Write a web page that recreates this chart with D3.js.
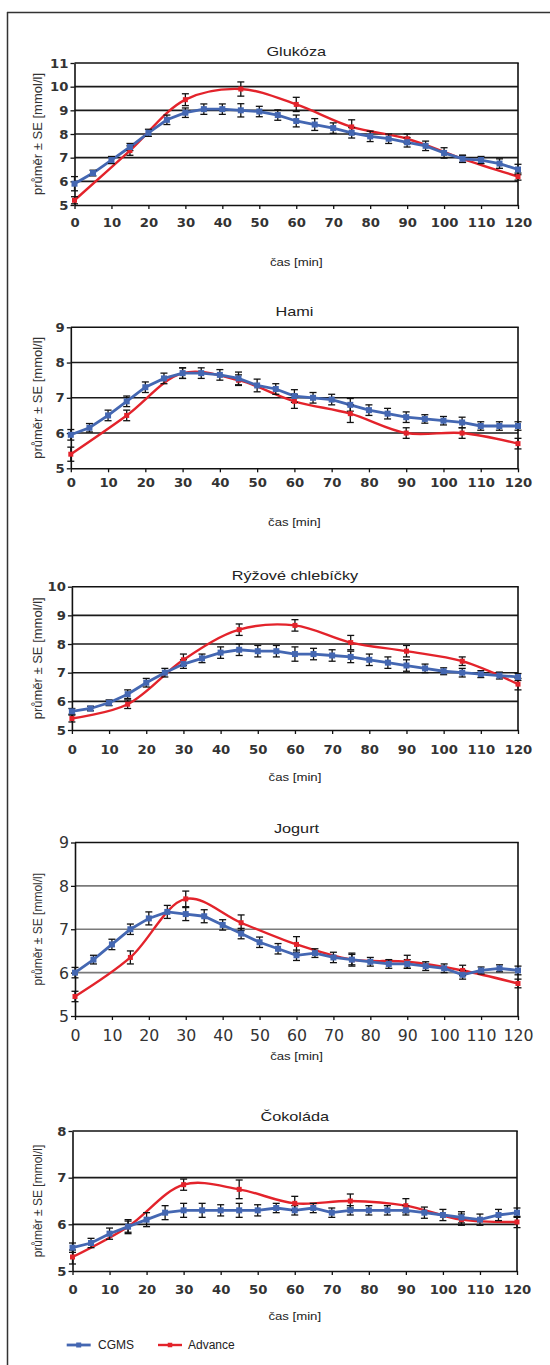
<!DOCTYPE html>
<html>
<head>
<meta charset="utf-8">
<script src="https://cdn.jsdelivr.net/npm/d3@7"></script>
<style>
  html, body { margin: 0; padding: 0; background: #fff; }
  svg { display: block; }
</style>
</head>
<body>
<svg id="chart" width="550" height="1365"></svg>
<script>
// ---------------- DATA ----------------
const minutesCGMS = [0,5,10,15,20,25,30,35,40,45,50,55,60,65,70,75,80,85,90,95,100,105,110,115,120];
const minutesAdvance = [0,15,30,45,60,75,90,105,120];
const xTicks = [0,10,20,30,40,50,60,70,80,90,100,110,120];
const seriesNames = ["CGMS", "Advance"];
const panelTitles = ["Glukóza", "Hami", "Rýžové chlebíčky", "Jogurt", "Čokoláda"];
const xLabel = "čas [min]";
const yLabel = "průměr ± SE [mmol/l]";

const glukozaTicks = [5,6,7,8,9,10,11];
const glukozaCGMS   = [5.9,6.35,6.9,7.45,8.05,8.6,8.9,9.05,9.05,9.0,8.95,8.8,8.55,8.4,8.25,8.05,7.9,7.8,7.65,7.5,7.2,6.95,6.9,6.75,6.5];
const glukozaCGMSse = [0.3,0.12,0.15,0.15,0.15,0.2,0.2,0.22,0.22,0.28,0.22,0.22,0.25,0.25,0.22,0.22,0.22,0.2,0.2,0.2,0.22,0.15,0.15,0.2,0.22];
const glukozaAdv    = [5.2,7.3,9.45,9.9,9.25,8.3,7.8,6.95,6.2];
const glukozaAdvSe  = [0.15,0.2,0.25,0.3,0.3,0.3,0.2,0.15,0.15];

const hamiTicks = [5,6,7,8,9];
const hamiCGMS   = [5.95,6.15,6.5,6.9,7.3,7.55,7.7,7.7,7.65,7.55,7.35,7.25,7.05,7.0,6.95,6.8,6.65,6.55,6.45,6.4,6.35,6.3,6.2,6.2,6.2];
const hamiCGMSse = [0.15,0.12,0.15,0.15,0.15,0.15,0.15,0.15,0.15,0.18,0.18,0.15,0.18,0.15,0.15,0.18,0.15,0.15,0.15,0.12,0.12,0.15,0.12,0.12,0.12];
const hamiAdv    = [5.4,6.5,7.7,7.5,6.9,6.55,6.0,6.0,5.7];
const hamiAdvSe  = [0.2,0.15,0.15,0.15,0.2,0.25,0.15,0.15,0.15];

const ryzoveTicks = [5,6,7,8,9,10];
const ryzoveCGMS   = [5.65,5.75,5.95,6.25,6.65,7.0,7.3,7.5,7.7,7.8,7.75,7.75,7.65,7.65,7.6,7.55,7.45,7.35,7.25,7.15,7.05,7.0,6.95,6.9,6.85];
const ryzoveCGMSse = [0.1,0.08,0.1,0.15,0.15,0.15,0.15,0.15,0.2,0.2,0.2,0.2,0.25,0.2,0.2,0.2,0.2,0.2,0.2,0.15,0.12,0.15,0.12,0.12,0.12];
const ryzoveAdv    = [5.4,5.9,7.45,8.5,8.65,8.05,7.75,7.4,6.6];
const ryzoveAdvSe  = [0.12,0.15,0.2,0.2,0.2,0.25,0.2,0.15,0.2];

const jogurtTicks = [5,6,7,8,9];
const jogurtCGMS   = [6.0,6.3,6.65,7.0,7.25,7.4,7.35,7.3,7.1,6.9,6.7,6.55,6.4,6.45,6.35,6.3,6.25,6.2,6.2,6.15,6.1,5.95,6.05,6.1,6.05];
const jogurtCGMSse = [0.12,0.1,0.12,0.12,0.15,0.15,0.15,0.15,0.12,0.12,0.12,0.12,0.12,0.1,0.12,0.12,0.1,0.1,0.1,0.1,0.1,0.1,0.08,0.08,0.1];
const jogurtAdv    = [5.45,6.35,7.7,7.15,6.65,6.3,6.25,6.05,5.75];
const jogurtAdvSe  = [0.12,0.15,0.18,0.18,0.18,0.15,0.15,0.12,0.1];

const cokoladaTicks = [5,6,7,8];
const cokoladaCGMS   = [5.5,5.6,5.8,5.95,6.1,6.25,6.3,6.3,6.3,6.3,6.3,6.35,6.3,6.35,6.25,6.3,6.3,6.3,6.3,6.25,6.2,6.15,6.1,6.2,6.25];
const cokoladaCGMSse = [0.1,0.1,0.12,0.12,0.15,0.15,0.15,0.15,0.12,0.15,0.12,0.1,0.1,0.1,0.1,0.1,0.1,0.1,0.1,0.12,0.12,0.12,0.12,0.12,0.1];
const cokoladaAdv    = [5.3,5.95,6.85,6.75,6.45,6.5,6.4,6.1,6.05];
const cokoladaAdvSe  = [0.15,0.15,0.12,0.2,0.15,0.15,0.15,0.12,0.12];

// ---------------- LAYOUT ----------------
const panels = [
  {title: panelTitles[0], cgms: glukozaCGMS, cgmsSe: glukozaCGMSse, adv: glukozaAdv, advSe: glukozaAdvSe, ticks: glukozaTicks},
  {title: panelTitles[1], cgms: hamiCGMS, cgmsSe: hamiCGMSse, adv: hamiAdv, advSe: hamiAdvSe, ticks: hamiTicks},
  {title: panelTitles[2], cgms: ryzoveCGMS, cgmsSe: ryzoveCGMSse, adv: ryzoveAdv, advSe: ryzoveAdvSe, ticks: ryzoveTicks},
  {title: panelTitles[3], cgms: jogurtCGMS, cgmsSe: jogurtCGMSse, adv: jogurtAdv, advSe: jogurtAdvSe, ticks: jogurtTicks},
  {title: panelTitles[4], cgms: cokoladaCGMS, cgmsSe: cokoladaCGMSse, adv: cokoladaAdv, advSe: cokoladaAdvSe, ticks: cokoladaTicks}
];
const layout = [
  {left: 74.5, right: 518, top: 63,    bottom: 205,   tickY: 223,  xlabY: 262,   titleY: 51.7,  yls: 13, ts: 11.5, tw: "bold",   tsx: 1.15, grid: "#1a1a1a"},
  {left: 70.8, right: 518, top: 327.3, bottom: 468.3, tickY: 483,  xlabY: 521.7, titleY: 311.7, yls: 13, ts: 11.5, tw: "bold",   tsx: 1.15, grid: "#1a1a1a"},
  {left: 71.9, right: 518, top: 586.7, bottom: 730,   tickY: 750,  xlabY: 777,   titleY: 575.7, yls: 13, ts: 11.5, tw: "bold",   tsx: 1.15, grid: "#1a1a1a"},
  {left: 75,   right: 518, top: 842.5, bottom: 1016,  tickY: 1036, xlabY: 1056,  titleY: 828,   yls: 12, ts: 15,   tw: "normal", tsx: 1.05, grid: "#7a7a7a"},
  {left: 72.5, right: 517, top: 1131,  bottom: 1271,  tickY: 1290, xlabY: 1316,  titleY: 1116,  yls: 12, ts: 11.5, tw: "bold",   tsx: 1.15, grid: "#1a1a1a"}
];

const BLUE = "#4467b2";
const RED = "#e3232b";
const TEXT_SANS = "'Liberation Sans', Arial, Helvetica, sans-serif";
const TICK_FONT = "'DejaVu Sans', Verdana, sans-serif";
const svg = d3.select("#chart");

// outer frame
svg.append("line").attr("x1", 7).attr("x2", 550).attr("y1", 12.5).attr("y2", 12.5)
  .attr("stroke", "#333").attr("stroke-width", 1.5);
svg.append("line").attr("x1", 7.5).attr("x2", 7.5).attr("y1", 12).attr("y2", 1365)
  .attr("stroke", "#333").attr("stroke-width", 1.5);

panels.forEach((p, i) => {
  const L = layout[i];
  const x = d3.scaleLinear().domain([0, 120]).range([L.left, L.right]);
  const y = d3.scaleLinear().domain([p.ticks[0], p.ticks[p.ticks.length - 1]]).range([L.bottom, L.top]);
  const g = svg.append("g");

  // gridlines
  g.selectAll(".grid").data(p.ticks.slice(1, -1)).join("line")
    .attr("x1", L.left).attr("x2", L.right)
    .attr("y1", d => y(d)).attr("y2", d => y(d))
    .attr("stroke", L.grid).attr("stroke-width", 1.6);
  // top and right border
  g.append("line").attr("x1", L.left).attr("x2", L.right + 0.75)
    .attr("y1", L.top).attr("y2", L.top).attr("stroke", "#111").attr("stroke-width", 1.6);
  g.append("line").attr("x1", L.right).attr("x2", L.right)
    .attr("y1", L.top).attr("y2", L.bottom).attr("stroke", "#111").attr("stroke-width", 1.6);

  // axes
  const xAxis = g.append("g").attr("transform", `translate(0,${L.bottom})`)
    .call(d3.axisBottom(x).tickValues(xTicks).tickSize(4).tickSizeOuter(0));
  xAxis.selectAll("text").attr("y", 0).attr("dy", "0.36em")
    .attr("transform", `translate(0,${L.tickY - L.bottom}) scale(${L.tsx},1)`)
    .style("font-family", TICK_FONT).style("font-size", L.ts + "px")
    .style("font-weight", L.tw).attr("fill", "#333");
  const yAxis = g.append("g").attr("transform", `translate(${L.left},0)`)
    .call(d3.axisLeft(y).tickValues(p.ticks).tickSize(4).tickSizeOuter(0).tickFormat(d3.format("d")));
  yAxis.selectAll("text").attr("x", 0).attr("dy", "0.36em")
    .attr("transform", `translate(-6,0) scale(${L.tsx},1)`)
    .style("font-family", TICK_FONT).style("font-size", L.ts + "px")
    .style("font-weight", L.tw).attr("fill", "#333");
  [xAxis, yAxis].forEach(a => {
    a.select(".domain").attr("stroke", "#111").attr("stroke-width", 1.6);
    a.selectAll(".tick line").attr("stroke", "#111").attr("stroke-width", 1.3);
  });

  const cx = (L.left + L.right) / 2;
  // title
  g.append("text").attr("transform", `translate(${cx},${L.titleY}) scale(1.25,1)`).attr("dy", "0.36em")
    .attr("text-anchor", "middle").style("font-family", TEXT_SANS)
    .style("font-size", "13px").attr("fill", "#222").text(p.title);
  // x label
  g.append("text").attr("transform", `translate(${cx},${L.xlabY}) scale(1.2,1)`).attr("dy", "0.36em")
    .attr("text-anchor", "middle").style("font-family", TEXT_SANS)
    .style("font-size", "11px").attr("fill", "#222").text(xLabel);
  // y label
  g.append("text").attr("transform", `translate(37.5,${(L.top + L.bottom) / 2}) rotate(-90)`)
    .attr("dy", "0.36em").attr("text-anchor", "middle")
    .style("font-family", TEXT_SANS)
    .style("font-size", L.yls + "px").attr("fill", "#333").text(yLabel);

  const cg = minutesCGMS.map((m, k) => ({m, v: p.cgms[k], se: p.cgmsSe[k]}));
  const ad = minutesAdvance.map((m, k) => ({m, v: p.adv[k], se: p.advSe[k]}));

  // lines
  g.append("path").datum(ad)
    .attr("d", d3.line().x(d => x(d.m)).y(d => y(d.v)).curve(d3.curveCatmullRom.alpha(0.5)))
    .attr("fill", "none").attr("stroke", RED).attr("stroke-width", 2.4);
  g.append("path").datum(cg)
    .attr("d", d3.line().x(d => x(d.m)).y(d => y(d.v)))
    .attr("fill", "none").attr("stroke", BLUE).attr("stroke-width", 2.8);

  // error bars
  const drawErr = (data) => {
    const eb = g.append("g").attr("stroke", "#111").attr("stroke-width", 1.3);
    eb.selectAll(".v").data(data).join("line")
      .attr("x1", d => x(d.m)).attr("x2", d => x(d.m))
      .attr("y1", d => y(d.v - d.se)).attr("y2", d => y(d.v + d.se));
    eb.selectAll(".t").data(data).join("line")
      .attr("x1", d => x(d.m) - 3.5).attr("x2", d => x(d.m) + 3.5)
      .attr("y1", d => y(d.v + d.se)).attr("y2", d => y(d.v + d.se));
    eb.selectAll(".b").data(data).join("line")
      .attr("x1", d => x(d.m) - 3.5).attr("x2", d => x(d.m) + 3.5)
      .attr("y1", d => y(d.v - d.se)).attr("y2", d => y(d.v - d.se));
  };
  drawErr(ad);
  drawErr(cg);

  // markers
  g.selectAll(".mr").data(ad).join("rect")
    .attr("x", d => x(d.m) - 2.5).attr("y", d => y(d.v) - 2.5)
    .attr("width", 5).attr("height", 5).attr("fill", RED);
  g.selectAll(".mb").data(cg).join("rect")
    .attr("x", d => x(d.m) - 3).attr("y", d => y(d.v) - 3)
    .attr("width", 6).attr("height", 6).attr("fill", BLUE);
});

// legend
const leg = svg.append("g");
const legendItems = [
  {name: seriesNames[0], color: BLUE, x1: 66.7, x2: 90.7, tx: 98, w: 2.8, s: 5},
  {name: seriesNames[1], color: RED, x1: 158, x2: 182, tx: 188, w: 2.4, s: 4.5}
];
legendItems.forEach(it => {
  leg.append("line").attr("x1", it.x1).attr("x2", it.x2).attr("y1", 1345).attr("y2", 1345)
    .attr("stroke", it.color).attr("stroke-width", it.w);
  leg.append("rect").attr("x", (it.x1 + it.x2) / 2 - it.s / 2).attr("y", 1345 - it.s / 2)
    .attr("width", it.s).attr("height", it.s).attr("fill", it.color);
  leg.append("text").attr("x", it.tx).attr("y", 1345).attr("dy", "0.36em")
    .style("font-family", TEXT_SANS).style("font-size", "12px")
    .attr("fill", "#222").text(it.name);
});
</script>
</body>
</html>
